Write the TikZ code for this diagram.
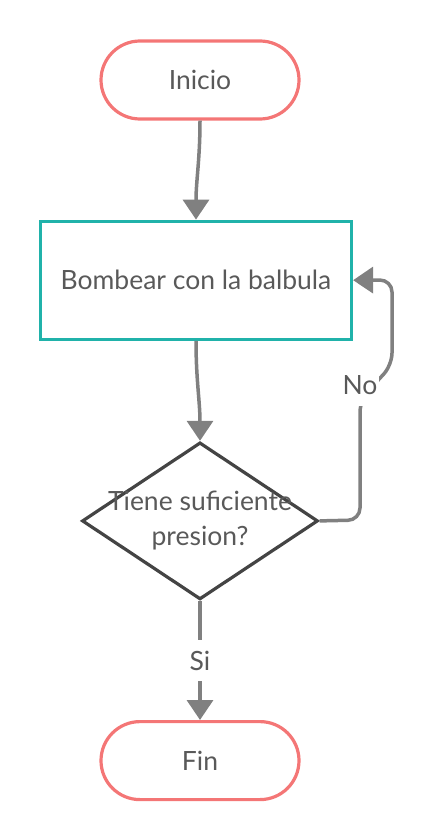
\documentclass[tikz,border=0pt]{standalone}
\usepackage{fontspec}
\setmainfont{Lato}
\usetikzlibrary{positioning,shapes.geometric,arrows.meta}
\definecolor{coral}{HTML}{F47676}
\definecolor{tealbox}{HTML}{20B2AA}
\definecolor{linegray}{HTML}{808080}
\definecolor{diagray}{HTML}{444444}
\definecolor{textgray}{HTML}{595959}
\pgfmathsetmacro{\flowwidth}{3.5}
\pgfmathsetmacro{\borderwidth}{3.2}

\tikzset{
    every node/.style={text=textgray, font=\fontsize{26.5}{35}\selectfont},
    terminal/.style={draw=coral, line width=\borderwidth pt, rounded corners=39pt,
        minimum width=198pt, minimum height=78pt},
    process/.style={draw=tealbox, line width=\borderwidth pt,
        minimum width=311pt, minimum height=118pt},
    decision/.style={diamond, draw=diagray, line width=\borderwidth pt, aspect=1.5,
        inner xsep=-50pt, inner ysep=-25pt, minimum width=236pt, minimum height=157pt,
        align=center},
    flow/.style={draw=linegray, line width=\flowwidth pt,
        -{Triangle[width=26pt,length=20pt]}},
    lbl/.style={fill=white, inner xsep=2pt, inner ysep=11pt}
}

\begin{document}
\begin{tikzpicture}[x=1pt, y=-1pt]
    \useasboundingbox (0,0) rectangle (432,840);
    % define nodes
    \node[terminal] (inicio) at (200,80) {Inicio};
    \node[process, below=99pt of inicio, xshift=-4pt] (bombear) {Bombear con la balbula};
    \node[decision, below=100pt of bombear, xshift=4pt] (presion) {Tiene suficiente\\presion?};
    \node[terminal, below=119pt of presion] (fin) {Fin};
    % bends of the loop back
    \coordinate (no_bend) at (360,520);
    \coordinate (no_low) at (360,400);
    \coordinate (no_high) at (392,365);
    \coordinate (no_top) at (392,280);
    % draw connectors
    \draw[flow] (inicio.south) to[out=-90, in=90] (bombear.north);
    \draw[flow] (bombear.south) to[out=-90, in=90] (presion.north);
    \draw[flow] (presion.south) -- node[lbl] (si) {Si} (fin.north);
    \draw[flow, rounded corners=12pt] (presion.east) -- (no_bend) -- (no_low)
        -- (no_high) -- (no_top) -- (bombear.east);
    % add labels
    \node[lbl] (no) at (360,385) {No};
\end{tikzpicture}
\end{document}
